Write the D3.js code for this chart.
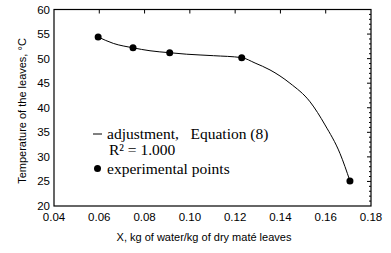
<!DOCTYPE html>
<html>
<head>
<meta charset="utf-8">
<script src="https://cdn.jsdelivr.net/npm/d3@7"></script>
<style>
  body { margin: 0; background: #fff; }
  svg { display: block; }
</style>
</head>
<body>
<div id="chart"></div>
<script>
// experimental points
var pointX = [0.0595, 0.0749, 0.0911, 0.1229, 0.1707];
var pointY = [54.4, 52.2, 51.2, 50.2, 25.1];

// fitted curve
var curveX = [0.0595, 0.0662, 0.0749, 0.0824, 0.0911, 0.0986, 0.1104, 0.1229, 0.1288, 0.1354,
              0.1442, 0.1531, 0.1597, 0.1663, 0.1707];
var curveY = [54.4, 53.1, 52.2, 51.6, 51.2, 50.9, 50.6, 50.2, 49.1, 47.7,
              45.0, 41.2, 36.5, 30.7, 25.1];

var xTicks = [0.04, 0.06, 0.08, 0.10, 0.12, 0.14, 0.16, 0.18];
var yTicks = [20, 25, 30, 35, 40, 45, 50, 55, 60];
var yMinor = d3.range(20, 61, 1);

var width = 391, height = 253;
var margin = { top: 9.5, right: 20, bottom: 47, left: 54 };

var svg = d3.select("#chart").append("svg")
    .attr("width", width)
    .attr("height", height);

var x = d3.scaleLinear().domain([0.04, 0.18]).range([margin.left, width - margin.right]);
var y = d3.scaleLinear().domain([20, 60]).range([height - margin.bottom, margin.top]);

var sans = "Arial, 'Liberation Sans', sans-serif";
var serif = "'Times New Roman', 'Liberation Serif', serif";

// frame
svg.append("rect")
    .attr("x", x(0.04)).attr("y", y(60))
    .attr("width", x(0.18) - x(0.04)).attr("height", y(20) - y(60))
    .attr("fill", "none").attr("stroke", "#000").attr("stroke-width", 1.2);

// top ticks pointing in
svg.selectAll(".tt").data(xTicks.slice(1, -1)).enter().append("line")
    .attr("x1", d => x(d)).attr("x2", d => x(d))
    .attr("y1", y(60)).attr("y2", y(60) + 4)
    .attr("stroke", "#000");

// right ticks pointing in
svg.selectAll(".rt").data(yMinor.slice(1, -1)).enter().append("line")
    .attr("x1", x(0.18)).attr("x2", d => x(0.18) - (d % 5 === 0 ? 4 : 2))
    .attr("y1", d => y(d)).attr("y2", d => y(d))
    .attr("stroke", "#000");

// tick labels
svg.selectAll(".xl").data(xTicks).enter().append("text")
    .attr("x", d => x(d)).attr("y", y(20) + 14.5)
    .attr("text-anchor", "middle")
    .style("font-family", sans).style("font-size", "11.5px")
    .text(d => d.toFixed(2));

svg.selectAll(".yl").data(yTicks).enter().append("text")
    .attr("x", x(0.04) - 4).attr("y", d => y(d) + 4)
    .attr("text-anchor", "end")
    .style("font-family", sans).style("font-size", "11.5px")
    .text(d => d);

// axis titles
svg.append("text")
    .attr("x", 204).attr("y", 241)
    .attr("text-anchor", "middle")
    .style("font-family", sans).style("font-size", "11px")
    .text("X, kg of water/kg of dry maté leaves");

svg.append("text")
    .attr("transform", "translate(26," + 111 + ") rotate(-90)")
    .attr("text-anchor", "middle")
    .style("font-family", sans).style("font-size", "11px")
    .text("Temperature of the leaves, °C");

// fitted curve
var curve = curveX.map((d, i) => [d, curveY[i]]);
svg.append("path")
    .datum(curve)
    .attr("fill", "none").attr("stroke", "#000").attr("stroke-width", 1)
    .attr("d", d3.line().x(d => x(d[0])).y(d => y(d[1])).curve(d3.curveMonotoneX));

// points
svg.selectAll(".pt").data(pointX).enter().append("circle")
    .attr("cx", d => x(d)).attr("cy", (d, i) => y(pointY[i]))
    .attr("r", 3.5).attr("fill", "#000");

// legend
var legend = svg.append("g").style("font-family", serif).style("font-size", "15.5px");
legend.append("line")
    .attr("x1", 93).attr("x2", 102).attr("y1", 134).attr("y2", 134)
    .attr("stroke", "#000");
legend.append("text").attr("x", 107).attr("y", 138.5)
    .style("white-space", "pre")
    .text("adjustment,   Equation (8)");
legend.append("text").attr("x", 109).attr("y", 155)
    .text("R² = 1.000");
legend.append("circle").attr("cx", 97.5).attr("cy", 168.5).attr("r", 3.5).attr("fill", "#000");
legend.append("text").attr("x", 107).attr("y", 173.5)
    .text("experimental points");
</script>
</body>
</html>
